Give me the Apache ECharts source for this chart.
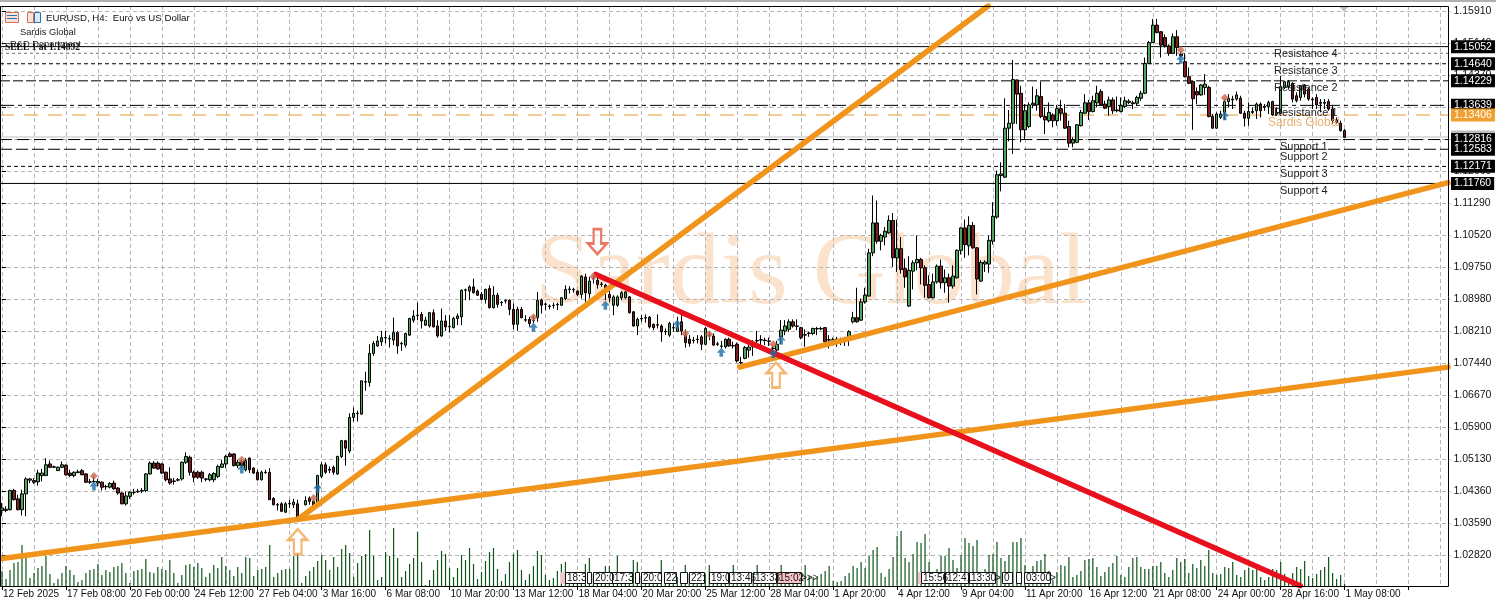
<!DOCTYPE html>
<html><head><meta charset="utf-8">
<style>html,body{margin:0;padding:0;background:#fff}#c{width:1496px;height:601px}</style>
<script src="https://cdn.jsdelivr.net/npm/echarts@6/dist/echarts.min.js"></script>
</head><body><div id="c"></div>
<script>
// Axis labels, one every 16 bars (H4 bars)
const tickLabels = ['12 Feb 2025','17 Feb 08:00','20 Feb 00:00','24 Feb 12:00','27 Feb 04:00','3 Mar 16:00','6 Mar 08:00','10 Mar 20:00','13 Mar 12:00','18 Mar 04:00','20 Mar 20:00','25 Mar 12:00','28 Mar 04:00','1 Apr 20:00','4 Apr 12:00','9 Apr 04:00','11 Apr 20:00','16 Apr 12:00','21 Apr 08:00','24 Apr 00:00','28 Apr 16:00','1 May 08:00'];
const priceTicks = [1.1591,1.1514,1.1437,1.136,1.1283,1.1206,1.1129,1.1052,1.0975,1.0898,1.0821,1.0744,1.0667,1.059,1.0513,1.0436,1.0359,1.0282];
// [open, close, low, high]
const candles = [
[1.0389,1.0395,1.0375,1.0407],[1.0389,1.0392,1.0385,1.0399],[1.0391,1.0437,1.0389,1.0439],[1.0437,1.0415,1.0413,1.0441],[1.0417,1.0391,1.0389,1.0427],
[1.0391,1.0429,1.0377,1.0439],[1.0429,1.0465,1.0375,1.0469],[1.0462,1.0465,1.0455,1.0467],[1.0461,1.0457,1.0453,1.0467],[1.0458,1.0479,1.0449,1.0487],
[1.0473,1.0479,1.0459,1.0489],[1.0473,1.0499,1.0472,1.0515],[1.0501,1.0493,1.0491,1.0509],[1.0494,1.0493,1.0492,1.0497],[1.0485,1.0493,1.0484,1.0495],
[1.0493,1.0499,1.0491,1.0507],[1.0498,1.0475,1.0473,1.05],[1.0479,1.0473,1.0469,1.0487],[1.0473,1.0481,1.0469,1.0483],[1.048,1.0482,1.0479,1.0487],
[1.0485,1.0475,1.0474,1.0489],[1.0477,1.0457,1.0455,1.0479],[1.0458,1.0457,1.0453,1.0465],[1.0458,1.0459,1.0455,1.0471],[1.0455,1.0459,1.0447,1.0465],
[1.0457,1.0445,1.0437,1.0459],[1.0447,1.0446,1.0439,1.0451],[1.0445,1.0454,1.0442,1.0457],[1.0455,1.0441,1.0439,1.0461],[1.0443,1.0431,1.0427,1.0445],
[1.0431,1.0405,1.0404,1.0433],[1.0405,1.0424,1.0401,1.0435],[1.0423,1.0433,1.0417,1.0435],[1.0432,1.0433,1.0427,1.0441],[1.0434,1.0435,1.0431,1.0441],
[1.0436,1.0437,1.0431,1.0443],[1.0437,1.0477,1.0433,1.0479],[1.0477,1.0503,1.0475,1.0507],[1.0503,1.0491,1.0489,1.0508],[1.0503,1.0489,1.0487,1.0507],
[1.0501,1.0479,1.0477,1.0503],[1.0481,1.0463,1.0459,1.0483],[1.0465,1.0455,1.0451,1.0493],[1.046,1.0459,1.0451,1.0467],[1.0462,1.0463,1.0459,1.0467],
[1.0465,1.0505,1.0461,1.0507],[1.0505,1.0519,1.0501,1.0529],[1.0517,1.0481,1.0473,1.0521],[1.0481,1.0469,1.0457,1.0485],[1.0481,1.0469,1.0465,1.0485],
[1.0481,1.0467,1.0457,1.0485],[1.0465,1.0464,1.0459,1.0467],[1.0463,1.0475,1.0459,1.0479],[1.0463,1.0478,1.0457,1.0481],[1.0471,1.0495,1.0467,1.0499],
[1.0493,1.0501,1.0491,1.0511],[1.0501,1.0519,1.0491,1.0523],[1.0525,1.0519,1.0517,1.0529],[1.0525,1.0497,1.0495,1.0527],[1.0497,1.0505,1.0491,1.0511],
[1.0507,1.0497,1.0491,1.0511],[1.0487,1.0509,1.0483,1.0515],[1.0515,1.0487,1.0479,1.0517],[1.0491,1.0479,1.0477,1.0493],[1.0481,1.0463,1.0461,1.0487],
[1.0463,1.0481,1.0461,1.0485],[1.0481,1.048,1.0477,1.0487],[1.0481,1.0415,1.0414,1.0491],[1.0418,1.0403,1.0401,1.0421],[1.0403,1.0402,1.0389,1.0407],
[1.0405,1.0387,1.0385,1.0409],[1.0385,1.0405,1.0383,1.0409],[1.0405,1.0406,1.0395,1.0415],[1.0403,1.0409,1.0395,1.0417],[1.0405,1.0373,1.0371,1.0415],
[1.0376,1.0377,1.0371,1.0379],[1.0403,1.0413,1.0401,1.0423],[1.0419,1.0411,1.0403,1.0423],[1.0411,1.0397,1.0395,1.0415],[1.0403,1.0473,1.0401,1.0475],
[1.0471,1.0499,1.0467,1.0505],[1.0499,1.0481,1.0477,1.0505],[1.0488,1.0486,1.0479,1.0495],[1.0493,1.0481,1.0475,1.0497],[1.0477,1.0519,1.0475,1.0521],
[1.0519,1.0557,1.0515,1.0559],[1.0557,1.0539,1.0497,1.0559],[1.0532,1.0613,1.0527,1.0623],[1.0613,1.0623,1.0603,1.0637],[1.0622,1.0623,1.0603,1.0629],
[1.0621,1.0701,1.0619,1.0702],[1.0698,1.0699,1.0677,1.0723],[1.0697,1.0767,1.0687,1.0789],[1.0767,1.0791,1.0761,1.0797],[1.0785,1.0797,1.0783,1.0809],
[1.0795,1.0805,1.0785,1.0821],[1.0804,1.0805,1.0791,1.0821],[1.0802,1.0803,1.0781,1.0811],[1.0799,1.0817,1.0787,1.0853],[1.0817,1.0785,1.0766,1.0821],
[1.079,1.0791,1.0773,1.0795],[1.0787,1.0815,1.0781,1.0817],[1.0811,1.0851,1.0809,1.0853],[1.0847,1.0857,1.0841,1.0871],[1.0858,1.0859,1.0847,1.0889],
[1.0861,1.0845,1.0827,1.0867],[1.0835,1.0847,1.0833,1.0855],[1.0833,1.0865,1.0829,1.0867],[1.0865,1.0831,1.0829,1.0873],[1.0833,1.0809,1.0805,1.0847],
[1.0809,1.0845,1.0807,1.0875],[1.0845,1.0831,1.0821,1.0859],[1.0832,1.0831,1.0817,1.0859],[1.0829,1.0851,1.0827,1.0855],[1.0851,1.0857,1.0835,1.0863],
[1.0855,1.0919,1.0835,1.0921],[1.0919,1.092,1.0895,1.0923],[1.0917,1.0927,1.0895,1.0931],[1.0927,1.0913,1.0911,1.0947],[1.0917,1.0907,1.0905,1.0921],
[1.0909,1.0897,1.0895,1.0915],[1.0897,1.0921,1.0887,1.0923],[1.0923,1.0877,1.0875,1.0931],[1.0877,1.0907,1.0875,1.0929],[1.0907,1.0885,1.0877,1.0913],
[1.089,1.0889,1.0881,1.0893],[1.0893,1.0894,1.0887,1.0897],[1.0895,1.0873,1.0859,1.0897],[1.0873,1.0837,1.0825,1.0887],[1.0837,1.0873,1.0821,1.0879],
[1.0873,1.0853,1.0851,1.0879],[1.0848,1.0847,1.0843,1.0859],[1.0849,1.0839,1.0831,1.0855],[1.0846,1.0847,1.0839,1.0857],[1.0853,1.0895,1.0843,1.0915],
[1.0895,1.0883,1.0863,1.0899],[1.0886,1.0885,1.0871,1.0889],[1.0881,1.088,1.0873,1.0885],[1.0882,1.0883,1.0875,1.0889],[1.0885,1.0884,1.0871,1.0889],
[1.0883,1.0901,1.0881,1.0903],[1.0899,1.0921,1.0895,1.0931],[1.0921,1.0922,1.0911,1.0929],[1.0921,1.092,1.0913,1.0925],[1.0917,1.0909,1.0905,1.0919],
[1.0909,1.0953,1.0899,1.0955],[1.0951,1.0913,1.0891,1.0959],[1.0911,1.0941,1.0899,1.0951],[1.0946,1.0947,1.0935,1.0955],[1.0943,1.0933,1.0923,1.0951],
[1.0934,1.0933,1.0927,1.0939],[1.0931,1.0917,1.0895,1.0935],[1.0909,1.0901,1.0891,1.0919],[1.0883,1.0903,1.0859,1.0907],[1.0883,1.0903,1.0879,1.0907],
[1.0901,1.0913,1.0895,1.0917],[1.0901,1.0915,1.0899,1.0917],[1.0903,1.0865,1.0863,1.0905],[1.0867,1.0833,1.0831,1.0869],[1.0833,1.0849,1.0811,1.0853],
[1.085,1.0851,1.0843,1.0859],[1.0853,1.0852,1.0841,1.0861],[1.0854,1.0831,1.0827,1.0857],[1.0837,1.0829,1.0823,1.0839],[1.0835,1.0836,1.0827,1.0861],
[1.0833,1.0819,1.0795,1.0837],[1.0819,1.082,1.0811,1.0827],[1.0811,1.0839,1.0807,1.0843],[1.0829,1.0828,1.0819,1.0839],[1.082,1.0829,1.0819,1.0855],
[1.0843,1.0821,1.0811,1.0859],[1.0811,1.0793,1.0781,1.0825],[1.0801,1.0791,1.0783,1.0811],[1.0799,1.0798,1.0791,1.0807],[1.08,1.0801,1.0791,1.0811],
[1.0807,1.0789,1.0775,1.0811],[1.0789,1.0827,1.0787,1.0831],[1.0811,1.0812,1.0799,1.0819],[1.0809,1.0787,1.0785,1.0815],[1.079,1.0789,1.0785,1.0795],
[1.0785,1.0784,1.0779,1.0797],[1.0783,1.0801,1.0779,1.0803],[1.0801,1.0785,1.0783,1.0805],[1.0785,1.0786,1.0779,1.0795],[1.0789,1.0749,1.0745,1.0793],
[1.0745,1.0744,1.0737,1.0759],[1.0755,1.0781,1.0753,1.0785],[1.0775,1.0782,1.0757,1.0787],[1.0783,1.0784,1.0761,1.0799],[1.0797,1.0798,1.0779,1.0821],
[1.0799,1.08,1.0785,1.0811],[1.0799,1.0798,1.0787,1.0805],[1.0797,1.0796,1.0785,1.0805],[1.0779,1.078,1.0769,1.0787],[1.0775,1.0789,1.0771,1.0797],
[1.0807,1.0823,1.0789,1.0847],[1.0821,1.0833,1.0811,1.0847],[1.0825,1.0843,1.0819,1.0849],[1.0843,1.0833,1.0829,1.0849],[1.0833,1.0832,1.0823,1.0849],
[1.0829,1.0805,1.0801,1.0831],[1.0811,1.0812,1.0783,1.0825],[1.0815,1.0816,1.0807,1.0819],[1.0815,1.0827,1.0811,1.0829],[1.0826,1.0827,1.0811,1.0831],
[1.0827,1.0826,1.0823,1.0831],[1.0829,1.0795,1.0793,1.083],[1.0799,1.08,1.0779,1.0811],[1.08,1.0799,1.0787,1.0805],[1.08,1.0801,1.0783,1.0807],
[1.0799,1.0798,1.0787,1.0805],[1.0799,1.08,1.0785,1.0807],[1.0799,1.0819,1.0785,1.0823],[1.0843,1.0853,1.0839,1.0867],[1.0853,1.0843,1.0841,1.0925],
[1.0847,1.0891,1.0845,1.0899],[1.0891,1.0907,1.0887,1.0925],[1.0905,1.1009,1.0904,1.1019],[1.1009,1.1081,1.1001,1.1147],[1.1081,1.1037,1.1031,1.1135],
[1.1037,1.1051,1.1015,1.1055],[1.1047,1.1061,1.1027,1.1071],[1.1057,1.1087,1.1055,1.1099],[1.1087,1.0997,1.0975,1.1105],[1.0997,1.1019,1.0963,1.1089],
[1.1019,1.0969,1.0959,1.1047],[1.0971,1.0951,1.0925,1.0995],[1.0881,1.0967,1.0879,1.1001],[1.0965,1.0985,1.0921,1.0991],[1.0985,1.0993,1.0967,1.1051],
[1.0993,1.0973,1.0933,1.0997],[1.0973,1.0931,1.0901,1.0979],[1.0933,1.0901,1.0899,1.0955],[1.0901,1.0939,1.0899,1.0959],[1.0939,1.0977,1.0935,1.0981],
[1.0977,1.0937,1.0923,1.0993],[1.0937,1.0949,1.0913,1.0969],[1.0949,1.0929,1.0889,1.0959],[1.0929,1.0953,1.0923,1.0979],[1.0949,1.1015,1.0947,1.1017],
[1.1015,1.1069,1.1005,1.1071],[1.1069,1.1029,1.0997,1.1089],[1.1026,1.1075,1.1003,1.1097],[1.1075,1.1021,1.1019,1.1083],[1.1021,1.0946,1.0909,1.1023],
[1.0941,1.0986,1.0939,1.0991],[1.0982,1.0987,1.0963,1.0991],[1.0982,1.1039,1.0961,1.1051],[1.1037,1.1097,1.1029,1.1131],[1.1095,1.1197,1.1091,1.1207],
[1.1195,1.1199,1.1157,1.1227],[1.1191,1.1309,1.1189,1.1381],[1.1309,1.1321,1.1277,1.1353],[1.1321,1.1426,1.1247,1.1473],[1.1425,1.1391,1.1319,1.1426],
[1.1393,1.1305,1.1275,1.1411],[1.1305,1.1351,1.1281,1.1367],[1.1313,1.1365,1.1309,1.1371],[1.1365,1.1369,1.1357,1.1409],[1.1365,1.1387,1.1351,1.1403],
[1.1385,1.1337,1.1333,1.1421],[1.1337,1.1329,1.1295,1.1359],[1.1327,1.1347,1.1323,1.1371],[1.1341,1.1327,1.1311,1.1345],[1.1327,1.1356,1.1315,1.1365],
[1.1356,1.1345,1.1327,1.1377],[1.1345,1.1309,1.1307,1.1367],[1.1313,1.1273,1.1263,1.1327],[1.1273,1.1281,1.1263,1.1287],[1.1275,1.1317,1.1273,1.1319],
[1.1315,1.1347,1.1313,1.1353],[1.1345,1.137,1.1343,1.1391],[1.137,1.1349,1.1329,1.1377],[1.1349,1.1375,1.1347,1.1387],[1.137,1.1393,1.1359,1.1411],
[1.1397,1.1365,1.1363,1.1403],[1.1367,1.1357,1.1355,1.1375],[1.1361,1.1377,1.1339,1.1385],[1.1377,1.1351,1.1343,1.1383],[1.1353,1.1351,1.1347,1.1385],
[1.1349,1.1363,1.1347,1.1383],[1.1361,1.1375,1.1357,1.1385],[1.1371,1.1374,1.1367,1.1379],[1.137,1.1368,1.1355,1.1375],[1.1369,1.1383,1.1363,1.1387],
[1.1381,1.1393,1.1375,1.1399],[1.1393,1.1465,1.1391,1.1479],[1.1465,1.1515,1.1463,1.1519],[1.1515,1.1557,1.1514,1.1572],[1.1557,1.1539,1.1537,1.1572],
[1.1541,1.1509,1.1479,1.1543],[1.1527,1.1507,1.1503,1.1535],[1.1507,1.1489,1.1483,1.1511],[1.1489,1.1529,1.1487,1.1537],[1.1529,1.1503,1.1483,1.1545],
[1.1487,1.1483,1.1479,1.1495],[1.1469,1.1433,1.1431,1.1489],[1.1433,1.1417,1.1415,1.1455],[1.1421,1.138,1.1305,1.1423],[1.1397,1.1389,1.1367,1.1407],
[1.1389,1.1413,1.1387,1.1415],[1.1407,1.1415,1.1389,1.1439],[1.1407,1.1337,1.1335,1.1411],[1.1337,1.1309,1.1308,1.1343],[1.1309,1.1343,1.1308,1.1347],
[1.1335,1.1343,1.1331,1.1351],[1.1347,1.1373,1.1329,1.1379],[1.1373,1.1381,1.1359,1.1391],[1.1379,1.1377,1.1355,1.1387],[1.1379,1.1389,1.1375,1.1397],
[1.1381,1.1345,1.1343,1.1387],[1.1345,1.1333,1.1313,1.1351],[1.1333,1.1349,1.1315,1.1371],[1.1349,1.1347,1.1343,1.1359],[1.1351,1.1367,1.1331,1.1371],
[1.1367,1.1351,1.1335,1.1371],[1.1359,1.1362,1.1351,1.1367],[1.1361,1.1371,1.1343,1.1375],[1.1373,1.1341,1.1339,1.1375],[1.1343,1.1347,1.1339,1.1359],
[1.1345,1.1409,1.1343,1.1435],[1.1407,1.1421,1.1403,1.1423],[1.1409,1.1421,1.1403,1.1425],[1.1417,1.1379,1.1371,1.1419],[1.1387,1.1375,1.1371,1.1395],
[1.1383,1.1411,1.1375,1.1413],[1.1413,1.1391,1.1383,1.1415],[1.1403,1.1379,1.1375,1.1407],[1.1379,1.1377,1.1355,1.1383],[1.1383,1.1365,1.1355,1.1391],
[1.1371,1.1369,1.1347,1.1379],[1.1371,1.1369,1.1355,1.1379],[1.1373,1.1355,1.1351,1.1379],[1.1355,1.1327,1.1319,1.1363],[1.1329,1.1323,1.1319,1.1335],
[1.1321,1.1303,1.1301,1.1327],[1.1303,1.1287,1.1285,1.1307]
];
// Tick volume (no scale printed on the chart), read bar by bar
const volumes = [15,7,16,23,24,41,28,8,13,18,20,30,12,3,7,13,20,16,11,4,6,13,16,17,22,11,16,14,19,20,23,13,3,15,16,17,27,14,13,19,17,16,26,13,3,11,21,22,19,23,18,9,13,21,18,29,20,16,10,19,13,29,28,10,16,17,19,41,9,13,16,17,17,30,33,3,10,15,19,25,31,26,16,29,19,37,41,33,9,23,30,32,56,30,6,9,34,30,58,28,9,15,22,28,54,24,1,6,16,26,35,32,18,9,18,31,26,38,22,7,14,25,34,38,17,5,12,24,32,36,16,6,12,20,35,31,11,6,8,15,22,24,10,8,10,12,22,28,12,8,12,20,20,12,30,10,12,10,26,24,10,12,9,11,13,26,12,10,12,9,11,21,12,10,11,9,12,21,11,10,12,9,11,21,10,12,9,11,12,21,10,9,12,11,12,21,10,12,9,11,10,21,10,9,8,12,15,20,5,4,5,10,13,20,18,24,18,30,36,39,13,9,17,29,50,55,28,24,32,44,43,52,24,8,17,30,30,38,26,18,31,48,43,40,46,12,17,31,32,44,28,25,31,44,44,48,21,14,20,25,26,32,15,6,14,21,20,29,9,11,15,26,27,28,19,10,14,19,23,30,11,9,19,28,29,19,17,17,20,20,24,13,9,16,28,24,27,13,22,18,26,20,36,13,11,12,19,18,24,11,9,16,18,16,18,9,6,9,17,16,24,12,7,13,19,17,25,10,8,12,16,19,29,13,7,11,2];
// Horizontal price levels
const resistanceLevels = [1.15052,1.1464,1.14229,1.13639];
const supportLevels = [1.12816,1.12583,1.12171,1.1176];
const sellLevel = 1.14892, sardisLevel = 1.13406, bidLevel = 1.12878;
// Trend lines: [bar position, price] pairs
const trendRising = [[-0.5,1.0273],[361.875,1.0734]];
const trendSteep = [[74.1,1.0368],[246.8,1.1603]];
const trendShort = [[184.6,1.0734],[361.875,1.1178]];
const trendFalling = [[148.6,1.0957],[324.9,1.0208]];
// Signal markers [bar, price]
const sellMarks = [[23,1.0472],[60,1.0511],[78,1.0419],[133,1.0854],[148,1.0952],[171,1.0815],[177,1.0813],[193,1.0789],[295,1.1497],[306,1.1382]];
const buyMarks = [[23,1.0448],[60,1.0489],[79,1.0443],[133,1.083],[151,1.0883],[169,1.0837],[180,1.077],[193,1.0767],[195,1.0799],[295,1.1475],[306,1.1339]];
const bigUpArrows = [[74,1.0314],[193.7,1.0715]];
const bigDownArrows = [[149,1.1036]];
// Texts on the chart
const resistanceNames = ['Resistance 4','Resistance 3','Resistance 2','Resistance 1'];
const supportNames = ['Support 1','Support 2','Support 3','Support 4'];
const timeTags = [['',561,564,1],['18:3',565,585],['',587,591],['20:0',593,612],['17:3',612,632],['',635,639],['20:0',641,661],['22',664,676],['',680,687],['22:',689,704],['19:0',709,728],['13:46',729,751],['13:33',753,776],['15:02',777,801,1],['',918,920,1],['15:56',921,944],['12:41',945,968],['13:30',969,995],['0',1002,1012],['',1016,1021],['03:00',1024,1050]];

const FONT = '"Liberation Sans", Arial, sans-serif';
const barCount = 363;
const lastX = 361.875;
const categories = Array.from({length: barCount}, (_, i) => i % 16 === 0 ? (tickLabels[i / 16] || '') : '');
const gridBars = Array.from({length: 46}, (_, i) => i * 8);
const gridStyle = {show: true, lineStyle: {color: '#b5b5b5', width: 1, type: [4, 3]}};

function level(v, color, dash, withLabel, labelBg, labelColor, width) {
  return {
    type: 'line', xAxisIndex: 1, yAxisIndex: 0, silent: true, symbol: 'none', animation: false, z: 1,
    data: [[-0.5, v], [lastX, v]],
    lineStyle: {color, type: dash, width: width || 1},
    endLabel: withLabel ? {show: true, distance: 3, formatter: () => v.toFixed(5), backgroundColor: labelBg || '#000', color: labelColor || '#fff', padding: [1, 3, 0, 3], fontFamily: FONT, fontSize: 10.5, lineHeight: 12} : {show: false}
  };
}
function trend(data, color) {
  return {type: 'line', xAxisIndex: 1, yAxisIndex: 0, silent: true, symbol: 'none', animation: false, data, z: 5, clip: true,
    lineStyle: {color, width: 5.5, cap: 'round'}};
}
const UP = 'path://M10,0 L20,11 L14,11 L14,26 L6,26 L6,11 L0,11 Z';
const DOWN = 'path://M6,0 L14,0 L14,15 L20,15 L10,26 L0,15 L6,15 Z';
const BLUE = 'path://M5,0 L10,5 L7,5 L7,9 L3,9 L3,5 L0,5 Z';

const textEls = [];
const txt = (x, y, text, o) => textEls.push({type: 'text', x, y, z: 100, silent: true, style: Object.assign({text, font: '11px ' + FONT, fill: '#222', textVerticalAlign: 'middle'}, o || {})});
resistanceNames.forEach((t, i) => txt(1274, [53.5, 70.5, 87.5, 112.5][i], t));
supportNames.forEach((t, i) => txt(1280, [146.5, 156.5, 173.5, 190.5][i], t));
txt(1268, 123, 'Sardis Global', {fill: '#e8b070', font: '12px ' + FONT});
txt(46, 18, 'EURUSD, H4:  Euro vs US Dollar', {fill: '#111', font: '9.7px ' + FONT});
txt(20, 32, 'Sardis Global', {font: '9.3px ' + FONT});
txt(10, 44, 'R&D Department', {font: '9.3px ' + FONT});
txt(5, 47.5, 'SELL 1 at 1.14892', {fill: '#111', font: 'bold 9.5px "Liberation Serif", serif'});

const tagEls = [];
timeTags.forEach(([t, a, b, pink]) => {
  tagEls.push({type: 'rect', z: 90, silent: true, shape: {x: a + .5, y: 572.5, width: b - a, height: 11}, style: {fill: pink ? '#f6c4c8' : '#fff', stroke: pink && !t ? '#f6c4c8' : '#111', lineWidth: 1}});
  if (t) tagEls.push({type: 'text', z: 91, silent: true, x: a + 2, y: 578, style: {text: t, font: '10px ' + FONT, fill: '#111', textVerticalAlign: 'middle'}});
});
[[801, '>>>'], [995, '>'], [1050, '>']].forEach(([x, t]) => tagEls.push({type: 'text', z: 91, silent: true, x, y: 578, style: {text: t, font: '10px ' + FONT, fill: '#111', textVerticalAlign: 'middle'}}));

const icons = [
  {type: 'rect', shape: {x: 5.5, y: 12.5, width: 13, height: 10}, style: {fill: '#fbe3dc', stroke: '#d0705a'}, z: 100, silent: true},
  {type: 'line', shape: {x1: 7, y1: 15.5, x2: 17, y2: 15.5}, style: {stroke: '#2f6fae'}, z: 101, silent: true},
  {type: 'line', shape: {x1: 7, y1: 18.5, x2: 17, y2: 18.5}, style: {stroke: '#2f6fae'}, z: 101, silent: true},
  {type: 'rect', shape: {x: 27.5, y: 12.5, width: 6, height: 10}, style: {fill: '#fbe3dc', stroke: '#d0705a'}, z: 100, silent: true},
  {type: 'rect', shape: {x: 34.5, y: 12.5, width: 6, height: 10}, style: {fill: '#dcebfa', stroke: '#2f6fae'}, z: 100, silent: true}
];

const chart = echarts.init(document.getElementById('c'), null, {renderer: 'canvas', width: 1496, height: 601});
chart.setOption({
  animation: false,
  backgroundColor: '#fff',
  textStyle: {fontFamily: FONT},
  grid: {left: -1.5, right: 45.5, top: 6, bottom: 15, show: false, containLabel: false},
  xAxis: [
    {type: 'category', data: categories, boundaryGap: true, position: 'bottom',
      axisLine: {show: false},
      axisTick: {show: true, alignWithLabel: true, interval: i => i % 16 === 0, length: 4, lineStyle: {color: '#000'}},
      axisLabel: {interval: i => i % 16 === 0, align: 'left', margin: 3, color: '#111', fontSize: 10, fontFamily: FONT, padding: [0, 0, 0, 1], hideOverlap: false},
      splitLine: {show: false}},
    {type: 'value', min: -0.5, max: 362.5, position: 'bottom', axisLine: {show: false}, axisLabel: {show: false},
      axisTick: {show: false, customValues: gridBars}, splitLine: gridStyle}
  ],
  yAxis: [
    {type: 'value', position: 'right', offset: -2, min: 1.02073, max: 1.1603, scale: true,
      axisLine: {show: false},
      axisTick: {show: true, length: 4, lineStyle: {color: '#000'}, customValues: priceTicks},
      axisLabel: {show: true, margin: 5, color: '#111', fontSize: 10.5, fontFamily: FONT, customValues: priceTicks, formatter: v => v.toFixed(5), showMinLabel: true, showMaxLabel: true},
      splitLine: gridStyle},
    {type: 'value', min: 0, max: 580, show: false, splitLine: {show: false}}
  ],
  graphic: {elements: [
    {type: 'text', z: -1, silent: true, x: 535, y: 276, style: {text: 'Sardis Global', font: '101px "Liberation Serif", serif', fill: '#fbe2cc', textVerticalAlign: 'middle'}},
    {type: 'rect', z: 100, silent: true, shape: {x: 0, y: 0, width: 1496, height: 2}, style: {fill: '#b0b0b0'}},
    {type: 'rect', z: 50, silent: true, shape: {x: 0.5, y: 6.5, width: 1448, height: 580}, style: {fill: 'transparent', stroke: '#000', lineWidth: 1}},
    {type: 'polygon', z: 100, silent: true, shape: {points: [[1340, 7], [1348, 7], [1344, 12]]}, style: {fill: '#bdbdbd'}},
    ...icons, ...textEls, ...tagEls
  ]},
  series: [
    {type: 'bar', name: 'Volume', xAxisIndex: 0, yAxisIndex: 1, data: volumes, barWidth: 1.2, itemStyle: {color: '#0e5519'}, silent: true, z: 2, animation: false},
    level(bidLevel, '#bdbdbd', 'solid', true, '#bdbdbd', '#bdbdbd', 1),
    level(sellLevel, '#5d7a5d', [3, 3], false),
    level(resistanceLevels[0], '#000', 'solid', true),
    level(resistanceLevels[1], '#000', [4, 3], true),
    level(resistanceLevels[2], '#000', [10, 3], true),
    level(resistanceLevels[3], '#000', [14, 4, 4, 4], true),
    level(sardisLevel, '#e59a2e', [14, 10], true, '#f0a030', '#fff'),
    level(supportLevels[0], '#000', [12, 5], true),
    level(supportLevels[1], '#000', [12, 4], true),
    level(supportLevels[2], '#000', [4, 3], true),
    level(supportLevels[3], '#000', 'solid', true),
    {type: 'candlestick', name: 'EURUSD', xAxisIndex: 0, yAxisIndex: 0, data: candles, barWidth: 3, silent: true, z: 3, animation: false,
      itemStyle: {color: '#4ea65a', color0: '#7d1d1d', borderColor: '#000', borderColor0: '#000', borderWidth: 1}},
    trend(trendRising, '#f0941c'),
    trend(trendSteep, '#f0941c'),
    trend(trendShort, '#f0941c'),
    trend(trendFalling, '#e8101c'),
    {type: 'scatter', xAxisIndex: 1, yAxisIndex: 0, data: sellMarks, symbol: 'diamond', symbolSize: 8, itemStyle: {color: '#c9674e'}, silent: true, z: 6, animation: false},
    {type: 'scatter', xAxisIndex: 1, yAxisIndex: 0, data: buyMarks, symbol: BLUE, symbolSize: 9, itemStyle: {color: '#1e6ea6'}, silent: true, z: 6, animation: false},
    {type: 'scatter', xAxisIndex: 1, yAxisIndex: 0, data: bigUpArrows, symbol: UP, symbolSize: [19, 25], itemStyle: {color: 'rgba(255,255,255,.55)', borderColor: '#f0a650', borderWidth: 2.5}, silent: true, z: 6, animation: false},
    {type: 'scatter', xAxisIndex: 1, yAxisIndex: 0, data: bigDownArrows, symbol: DOWN, symbolSize: [19, 25], itemStyle: {color: 'rgba(255,255,255,.55)', borderColor: '#e4573a', borderWidth: 2.5}, silent: true, z: 6, animation: false}
  ]
});
</script></body></html>
